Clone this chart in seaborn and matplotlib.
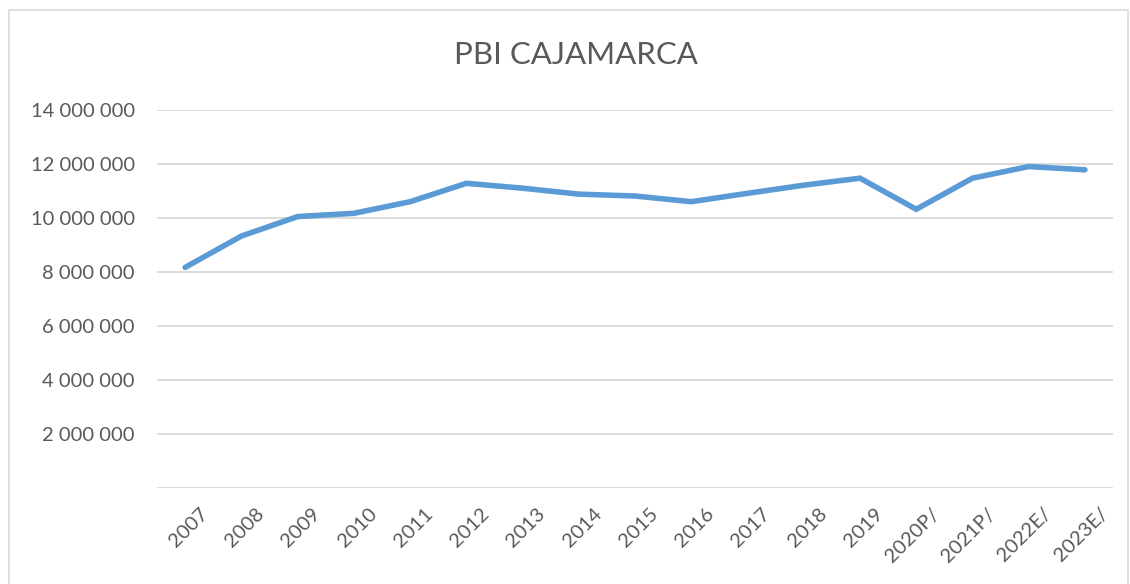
import matplotlib
matplotlib.use("Agg")
import matplotlib.pyplot as plt
import matplotlib.transforms as mtransforms
from matplotlib.patches import Rectangle
from matplotlib.ticker import FuncFormatter
import seaborn as sns
import pandas as pd

years = ["2007", "2008", "2009", "2010", "2011", "2012", "2013", "2014", "2015",
         "2016", "2017", "2018", "2019", "2020P/", "2021P/", "2022E/", "2023E/"]
pbi = [8170000, 9330000, 10050000, 10170000, 10600000, 11280000, 11100000, 10880000,
       10810000, 10600000, 10910000, 11210000, 11470000, 10320000, 11470000, 11900000,
       11780000]
y_ticks = [0, 2000000, 4000000, 6000000, 8000000, 10000000, 12000000, 14000000]

df = pd.DataFrame({"year": years, "pbi": pbi})

sns.set_style("white")
plt.rcParams["font.family"] = ["Lato", "DejaVu Sans"]

fig = plt.figure(figsize=(11.3, 5.84), dpi=100)
ax = fig.add_axes([0.139, 0.164, 0.846, 0.648])

sns.lineplot(data=df, x="year", y="pbi", color="#5b9bd5", linewidth=4.0,
             solid_capstyle="round", solid_joinstyle="miter", sort=False, ax=ax)

ax.set_ylim(0, 14000000)
ax.set_xlim(-0.5, len(years) - 0.5)
ax.set_yticks(y_ticks)
ax.yaxis.set_major_formatter(FuncFormatter(
    lambda v, p: "" if v == 0 else f"{int(v):,}".replace(",", " ")))
ax.grid(axis="y", color="#d9d9d9", linewidth=1.3)
ax.set_axisbelow(True)
for s in ax.spines.values():
    s.set_visible(False)
ax.set_xlabel("")
ax.set_ylabel("")
ax.tick_params(axis="y", length=0, pad=16, labelsize=14.5, labelcolor="#595959")
ax.tick_params(axis="x", length=0, pad=12, labelsize=14.5, labelcolor="#595959")

offset = mtransforms.ScaledTranslation(0.14, 0, fig.dpi_scale_trans)
for lab in ax.get_xticklabels():
    lab.set_rotation(45)
    lab.set_ha("right")
    lab.set_rotation_mode("anchor")
    lab.set_transform(lab.get_transform() + offset)

fig.text(0.51, 0.905, "PBI CAJAMARCA", ha="center", va="center",
         fontsize=22.5, color="#595959")

fig.patches.append(Rectangle((0.008, -0.01), 0.99, 0.993, transform=fig.transFigure,
                             fill=False, edgecolor="#d9d9d9", linewidth=1.2))

fig.savefig("out.png", dpi=100)
